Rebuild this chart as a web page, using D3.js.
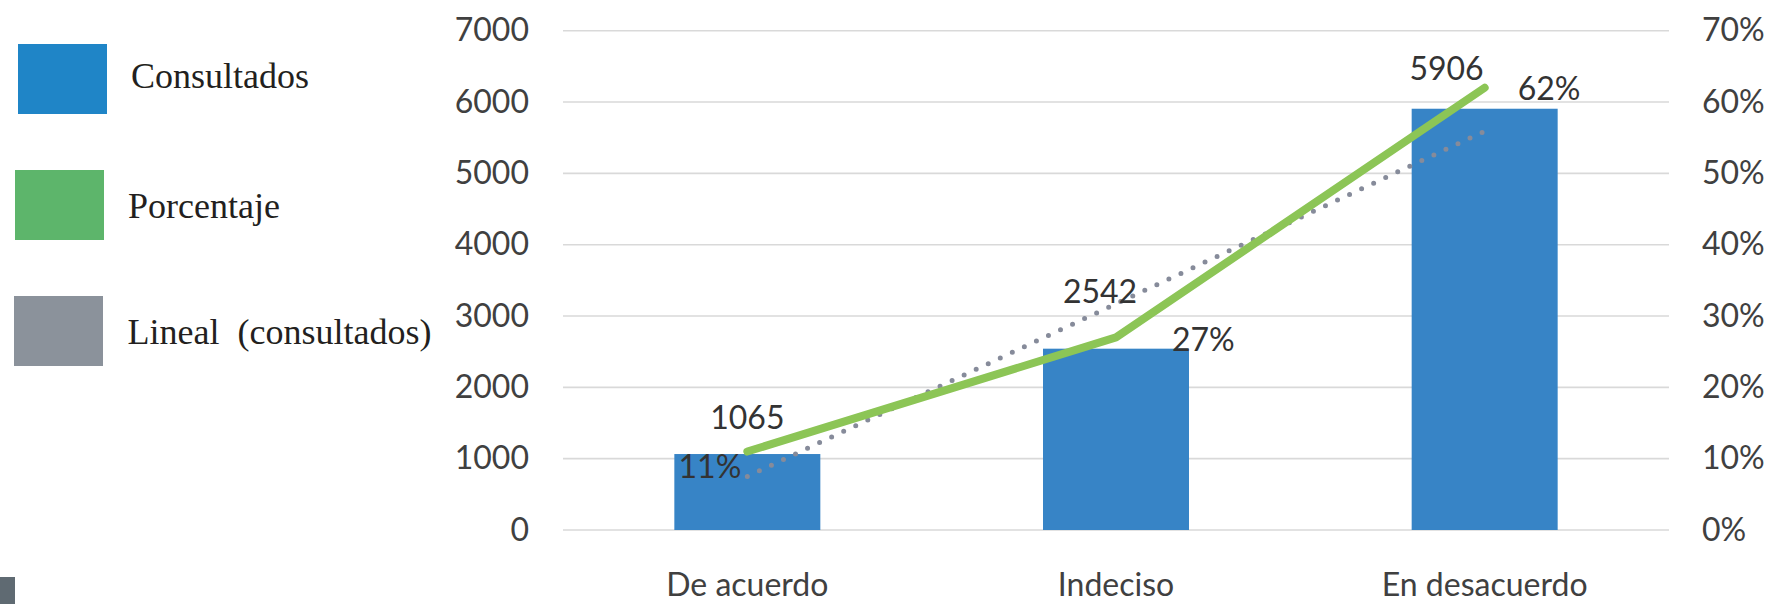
<!DOCTYPE html>
<html>
<head>
<meta charset="utf-8">
<script src="https://cdn.jsdelivr.net/npm/d3@7"></script>
<style>
  html, body { margin: 0; padding: 0; background: #ffffff; }
  svg { display: block; }
</style>
</head>
<body>
<svg id="chart" width="1774" height="604"></svg>
<script>
// Survey responses: number of people consulted and their share
const categories = ["De acuerdo", "Indeciso", "En desacuerdo"];
const consultados = [1065, 2542, 5906];
const porcentaje = [0.11, 0.27, 0.62];
const leftTicks = [0, 1000, 2000, 3000, 4000, 5000, 6000, 7000];
const rightTicks = [0, 0.1, 0.2, 0.3, 0.4, 0.5, 0.6, 0.7];
const legendLabels = ["Consultados", "Porcentaje", "Lineal  (consultados)"];

const colors = {
  bar: "#3784c6",
  line: "#8cc556",
  trend: "#868b9a",
  grid: "#d9d9d9",
  axisText: "#404040",
  labelText: "#333333",
  legendText: "#231f20",
  legendBar: "#1f85c7",
  legendLine: "#5db56b",
  legendTrend: "#8b929b"
};

const svg = d3.select("#chart");

// Plot frame
const plot = { left: 563, right: 1669, top: 30.7, bottom: 530 };

const x = d3.scaleBand()
  .domain(categories)
  .range([plot.left, plot.right])
  .paddingInner(0.604)
  .paddingOuter(0.302);

const yLeft = d3.scaleLinear().domain([0, 7000]).range([plot.bottom, plot.top]);
const yRight = d3.scaleLinear().domain([0, 0.7]).range([plot.bottom, plot.top]);

const cx = c => x(c) + x.bandwidth() / 2;

// Horizontal gridlines
svg.append("g")
  .selectAll("line")
  .data(leftTicks)
  .join("line")
  .attr("x1", plot.left)
  .attr("x2", plot.right)
  .attr("y1", d => yLeft(d))
  .attr("y2", d => yLeft(d))
  .attr("stroke", colors.grid)
  .attr("stroke-width", 1.6);

// Left axis (counts)
const gLeft = svg.append("g")
  .attr("transform", `translate(${plot.left},0)`)
  .call(d3.axisLeft(yLeft).tickValues(leftTicks).tickSize(0).tickPadding(34).tickFormat(d3.format("d")));
gLeft.select(".domain").remove();
gLeft.selectAll("text")
  .attr("font-family", "Lato, 'Open Sans', sans-serif")
  .attr("font-size", 32)
  .attr("fill", colors.axisText);

// Right axis (percent)
const gRight = svg.append("g")
  .attr("transform", `translate(${plot.right},0)`)
  .call(d3.axisRight(yRight).tickValues(rightTicks).tickSize(0).tickPadding(33).tickFormat(d3.format(".0%")));
gRight.select(".domain").remove();
gRight.selectAll("text")
  .attr("font-family", "Lato, 'Open Sans', sans-serif")
  .attr("font-size", 32)
  .attr("fill", colors.axisText);

// Category axis
const gBottom = svg.append("g")
  .attr("transform", `translate(0,${plot.bottom})`)
  .call(d3.axisBottom(x).tickSize(0));
gBottom.select(".domain").remove();
gBottom.selectAll("text")
  .attr("y", 66)
  .attr("dy", 0)
  .attr("font-family", "Lato, 'Open Sans', sans-serif")
  .attr("font-size", 32)
  .attr("fill", colors.axisText);

// Bars
svg.append("g")
  .selectAll("rect")
  .data(categories)
  .join("rect")
  .attr("x", c => x(c))
  .attr("width", x.bandwidth())
  .attr("y", (c, i) => yLeft(consultados[i]))
  .attr("height", (c, i) => plot.bottom - yLeft(consultados[i]))
  .attr("fill", colors.bar);

// Linear trendline fitted to the counts (least squares over category index)
const n = consultados.length;
const xs = d3.range(1, n + 1);
const mx = d3.mean(xs), my = d3.mean(consultados);
const slope = d3.sum(xs, (v, i) => (v - mx) * (consultados[i] - my)) / d3.sum(xs, v => (v - mx) ** 2);
const intercept = my - slope * mx;
const trend = xs.map(v => intercept + slope * v);

svg.append("path")
  .datum(categories)
  .attr("d", d3.line().x(c => cx(c)).y((c, i) => yLeft(trend[i])))
  .attr("fill", "none")
  .attr("stroke", colors.trend)
  .attr("stroke-width", 5)
  .attr("stroke-linecap", "round")
  .attr("stroke-dasharray", "0 13.3");

// Percentage line
svg.append("path")
  .datum(categories)
  .attr("d", d3.line().x(c => cx(c)).y((c, i) => yRight(porcentaje[i])))
  .attr("fill", "none")
  .attr("stroke", colors.line)
  .attr("stroke-width", 8)
  .attr("stroke-linecap", "round")
  .attr("stroke-linejoin", "round");

// Value labels
const countPlacement = [
  { dx: 0, dy: -25, anchor: "middle" },
  { dx: -16, dy: -46, anchor: "middle" },
  { dx: -1, dy: -28.5, anchor: "end" }
];
const pctPlacement = [
  { dx: -6, dy: 26.5, anchor: "end" },
  { dx: 56, dy: 13.5, anchor: "start" },
  { dx: 33, dy: 12.5, anchor: "start" }
];

svg.append("g")
  .selectAll("text")
  .data(categories)
  .join("text")
  .attr("x", (c, i) => cx(c) + countPlacement[i].dx)
  .attr("y", (c, i) => yLeft(consultados[i]) + countPlacement[i].dy)
  .attr("text-anchor", (c, i) => countPlacement[i].anchor)
  .attr("font-family", "Lato, 'Open Sans', sans-serif")
  .attr("font-size", 32)
  .attr("fill", colors.labelText)
  .text((c, i) => d3.format("d")(consultados[i]));

svg.append("g")
  .selectAll("text")
  .data(categories)
  .join("text")
  .attr("x", (c, i) => cx(c) + pctPlacement[i].dx)
  .attr("y", (c, i) => yRight(porcentaje[i]) + pctPlacement[i].dy)
  .attr("text-anchor", (c, i) => pctPlacement[i].anchor)
  .attr("font-family", "Lato, 'Open Sans', sans-serif")
  .attr("font-size", 32)
  .attr("fill", colors.labelText)
  .text((c, i) => d3.format(".0%")(porcentaje[i]));

// Legend
const legendSwatches = [
  { x: 18, y: 44, color: colors.legendBar, tx: 131, ty: 88 },
  { x: 15, y: 170, color: colors.legendLine, tx: 128, ty: 217.5 },
  { x: 14, y: 296, color: colors.legendTrend, tx: 127.5, ty: 344 }
];
const legend = svg.append("g");
legend.selectAll("rect")
  .data(legendLabels)
  .join("rect")
  .attr("x", (d, i) => legendSwatches[i].x)
  .attr("y", (d, i) => legendSwatches[i].y)
  .attr("width", 89)
  .attr("height", 70)
  .attr("fill", (d, i) => legendSwatches[i].color);
legend.selectAll("text")
  .data(legendLabels)
  .join("text")
  .attr("x", (d, i) => legendSwatches[i].tx)
  .attr("y", (d, i) => legendSwatches[i].ty)
  .attr("xml:space", "preserve")
  .style("white-space", "pre")
  .attr("font-family", "'Liberation Serif', 'Times New Roman', serif")
  .attr("font-size", 36)
  .attr("fill", colors.legendText)
  .text(d => d);

// Small page marker at the lower-left corner
svg.append("rect")
  .attr("x", 0)
  .attr("y", 577)
  .attr("width", 15)
  .attr("height", 27)
  .attr("fill", "#5f6a72");
</script>
</body>
</html>
